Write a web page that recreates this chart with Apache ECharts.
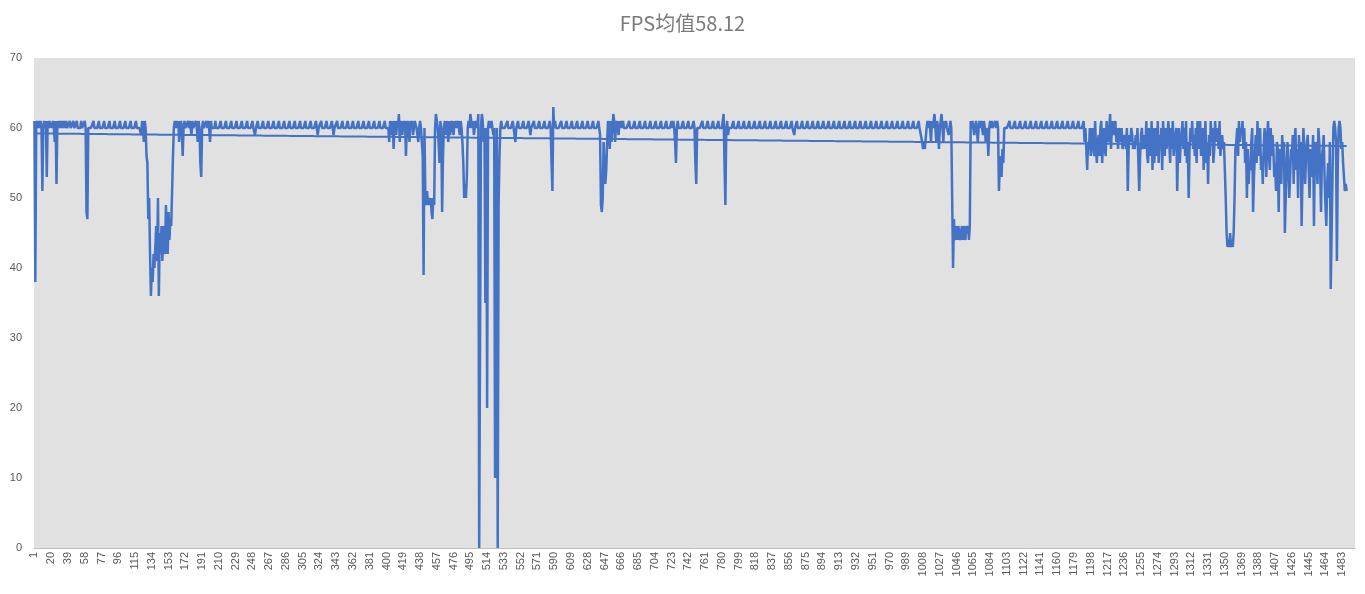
<!DOCTYPE html>
<html><head><meta charset="utf-8">
<script src="https://cdn.jsdelivr.net/npm/echarts@6/dist/echarts.min.js"></script>
<style>html,body{margin:0;padding:0;background:#fff}#c{width:1365px;height:594px}</style>
</head><body><div id="c"></div>
<script>
const titleText = 'FPS均值58.12';
const categoryCount = 1497;
const yTicks = [0,10,20,30,40,50,60,70];
// FPS values, run-length notation "v*n" = v repeated n times
const fpsSegments = [
 "61 38 60 61 60 61 60 61 60 51 60 61 60 61 53 61 60 61 61 60 60 61 60 58 61 52 61 60 61 60 61 60 61",
 "60 61 60 61 60*3 61 60*3 61 60*3 61 60*4 61 60*3 61 60",
 "48 47 60",
 "60*5 61 60*5 61 60*5 61 60*5 61 60*5 61 60*5 61 60*5 61 60*5 61 60*5 61 60*4",
 "60 59 61 60 58 61 60 56 55 47 50 42 36 40 38 42 40 43 46 41 50 36 45 42 46 41 46 43 42 49 45 42 48 44 47 46 51 56 60 61 60",
 "61 60 61 58 60 61 60 56 60 61 60*3 61 60 61 60 59 61 60*3 61 60 58 61 60 55 53 60 61 60*3 61 60 61 60 58 61 60*4 61",
 "60*5 61 60*5 61 60*5 61 60*5 61 60*5 61 60*5 61 60*5 61 60*2 59 60*2 61",
 "60*5 61 60*5 61 60*5 61 60*5 61 60*5 61 60*5 61 60*5 61 60*5 61",
 "60*5 61 60*5 61 60*5 61 60 59 60*3 61 60*5 61 60*5 61 60 59 60*3 61 60*5 61",
 "60*5 61 60*5 61 60*5 61 60*5 61 60*5 61 60*5 61 60*5 61 60*5 61 60*3",
 "60 58 61 60 59 61 57 60 61 59 61 60 62 58 61 60 59 61 60 61 56 60 61 60 58 61 60 61 59 60 61 61 60 59 58 60 61 60 58 56",
 "39 60 50 49 51 49 50 49 50 48 47 50 49 60 62 61 60 58 55 61 60 48",
 "56 60 61 59 61 60 58 61 59 60 61 60 59 61 60 61 60 61 60 59 61 60 58 55 50 52 50 53 60 61 60 62 61 60 61 59 60 61",
 "61 60 62 0 0 60 62 61 58 60 35 60 20 60 61 60 60 61 60 59 60 10 10 60 0 49 56 60 61 60",
 "60*5 61 60*5 61 60*2 58 60*2 61 60*5 61 60*5 61 60 59 60*3 61 60*5 61 60*5 61 60*5 61 60",
 "55 51 63 60 61 60",
 "60*5 61 60*5 61 60*5 61 60*5 61 60*5 61 60*5 61 60*5 61 60*5 61 60",
 "59 49 48 50 58 55 52 54 58 61 60 57 61 58 60 62 61 58 60 61 60 59 61 60 61 60 61 60",
 "60*5 61 60*5 61 60*5 61 60*5 61 60*5 61 60*5 61 60*5 61 60*5 61 60*5 61 60 61 60",
 "58 55 60 61",
 "60*5 61 60*5 61 60*5 61 60",
 "55 52 60",
 "60*5 61 60*5 61 60*5 61 60*5 61 60*4 61",
 "62 55 49 60 61 59",
 "60*5 61 60*5 61 60*5 61 60*5 61 60*5 61 60*5 61 60*5 61 60*5 61 60*5 61",
 "60*5 61 60*5 61 60*5 61 60*2 59 60*2 61 60*5 61 60*5 61 60*5 61 60*5 61 60*5 61",
 "60*5 61 60*5 61 60*5 61 60*5 61 60*5 61 60*5 61 60*5 61 60*5 61 60*5 61",
 "60*5 61 60*5 61 60*5 61 60*5 61 60*5 61 60*5 61 60*5 61 60*5 61 60*5 61 60*3",
 "58 57 58 57 57 60 61 60 61 60 58 61 60 61 62 60 58 61 60 57 60 61 62 60 58 61 60 61 60 60 59 60 61 60 60",
 "40 47 44 45 46 44 46 45 44 45 46 44 46 45 44 46 45 46 44 46 61",
 "60 61 60 59 60 61 60 58 60 61 60 61 60 59 61 60 58 60 59 56 60 61 60 61 60*3 61 60 61 60 51 55 56 53 57 55 60",
 "60*5 61 60*5 61 60*5 61 60*5 61 60*5 61 60*5 61 60*5 61 60*5 61 60*5 61 60*5 61 60*5 61 60*5 61 60*5 61 60*5 61 60*5 61",
 "58 60 57 54 58 57 60 56 58 60 57 56 61 57 55 58 59 56 60 61 55 58 60 57 56 61 59 58 60 62",
 "57 60 61 59 60 61 58 60 57 60 59 58 60 57 58 59 58 57 60 51 57 59 58 60 59 57 58 57 59 58",
 "60 55 51 56 59 60 57 58 59 57 61 56 55 60 58 56 61 54 60 55 58 60 56 61 55 59 57 60 54 61",
 "58 56 60 57 59 61 58 55 60 57 61 56 58 59 60 51 57 60 55 58",
 "59 61 57 60 56 61 55 58 50 57 60 58 61 57 59 56 60 55 61 57 59 61 56 58 60 54 57 61 55 58",
 "52 59 56 61 58 60 55 57 61 58 60 59 57 61 56 58 59 57 58 54 50 45 43 44 43 45 43 44 43 45",
 "50 57 58 60 56 61 58 60 59 61 57 60 55 58 50 57 52 55 54 58 60 48 53 56 59 55 61 56 59 60",
 "54 56 52 57 60 58 53 59 61 56 54 60 56 59 57 53 55 51 58 57 48 57 56 52 59 55 58 45 50 55",
 "58 54 50 53 57 56 59 52 58 60 54 57 50 59 56 58 46 53 60 57 52 56 58 59 54 50 57 53 55 59",
 "46 57 58 55 52 60 58 54 48 56 57 59 53 49 46 52 55 50 58 37 45 53 60 61 60 58 41 55 60 61",
 "60 57 58 55 53 51 52 51"
];
const fps = [];
fpsSegments.join(' ').trim().split(/\s+/).forEach(t => {
  const [v, n] = t.split('*');
  for (let k = 0; k < (n ? +n : 1); k++) fps.push(+v);
});
const categories = Array.from({length: categoryCount}, (_, i) => String(i + 1));
// linear trend line (least squares) of the data
const n = fps.length;
let sx=0, sy=0, sxx=0, sxy=0;
fps.forEach((y,i)=>{sx+=i; sy+=y; sxx+=i*i; sxy+=i*y;});
const slope = (n*sxy - sx*sy)/(n*sxx - sx*sx);
const icpt = (sy - slope*sx)/n;
const trend = fps.map((_,i)=> +(icpt + slope*i).toFixed(3));

const chart = echarts.init(document.getElementById('c'));
chart.setOption({
  animation: false,
  backgroundColor: '#ffffff',
  title: { text: titleText, left: 'center', top: 8,
    textStyle: { color: '#7a7a7a', fontSize: 20, fontWeight: 'normal', fontFamily: 'Noto Sans CJK SC' } },
  grid: { left: 34, right: 10, top: 58, bottom: 46, show: true, backgroundColor: '#e1e1e1', borderWidth: 0 },
  xAxis: { type: 'category', data: categories, boundaryGap: true,
    axisLine: { lineStyle: { color: '#bfbfbf' } }, axisTick: { show: false },
    axisLabel: { interval: 18, rotate: 90, color: '#595959', fontSize: 11, margin: 4 } },
  yAxis: { type: 'value', min: yTicks[0], max: yTicks[yTicks.length-1], interval: 10,
    splitLine: { show: false }, axisLine: { show: false }, axisTick: { show: false },
    axisLabel: { color: '#595959', fontSize: 11, margin: 12 } },
  series: [
    { type: 'line', data: fps, showSymbol: false, lineStyle: { color: '#4472C4', width: 2.5 } },
    { type: 'line', data: trend, showSymbol: false, lineStyle: { color: '#4472C4', width: 2 } }
  ]
});
</script></body></html>
